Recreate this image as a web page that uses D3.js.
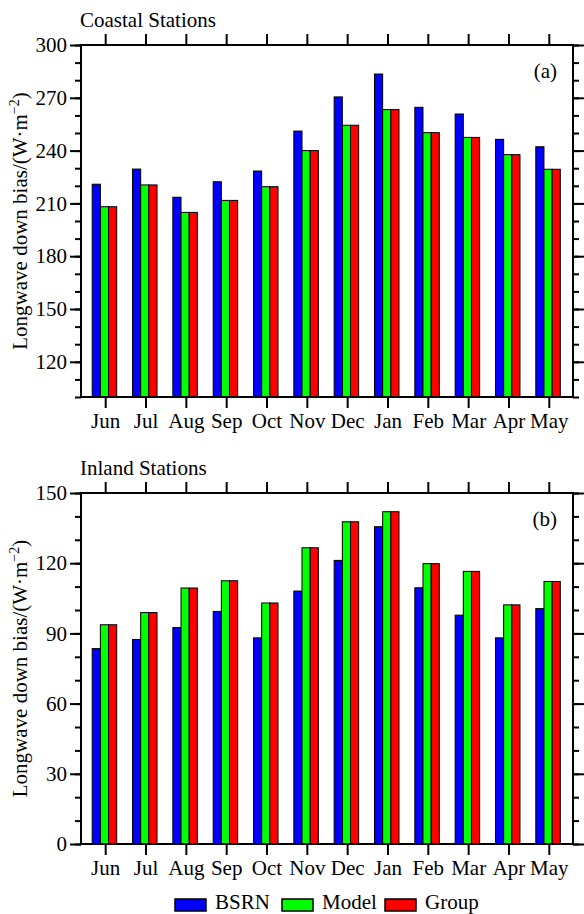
<!DOCTYPE html>
<html>
<head>
<meta charset="utf-8">
<script src="https://cdn.jsdelivr.net/npm/d3@7"></script>
<style>
    body { margin: 0; background: #fff; }
    svg text { font-family: "Liberation Serif", "Times New Roman", serif; fill: #000; }
</style>
</head>
<body>
<div id="chart"></div>
<script>
// Data
const months = ["Jun", "Jul", "Aug", "Sep", "Oct", "Nov", "Dec", "Jan", "Feb", "Mar", "Apr", "May"];
const seriesNames = ["BSRN", "Model", "Group"];
const seriesColors = ["#0000ff", "#00ff00", "#ff0000"];

const coastalBSRN  = [220.9, 229.5, 213.5, 222.3, 228.4, 251.1, 270.5, 283.5, 264.6, 260.8, 246.4, 242.2];
const coastalModel = [208.1, 220.5, 204.9, 211.7, 219.5, 240.0, 254.4, 263.3, 250.2, 247.5, 237.7, 229.4];
const coastalGroup = [208.1, 220.5, 204.9, 211.7, 219.5, 240.0, 254.4, 263.3, 250.2, 247.5, 237.7, 229.4];

const inlandBSRN  = [83.5, 87.4, 92.5, 99.4, 88.1, 108.1, 121.2, 135.6, 109.5, 97.8, 88.1, 100.6];
const inlandModel = [93.7, 98.9, 109.4, 112.5, 103.0, 126.6, 137.7, 142.0, 119.8, 116.5, 102.2, 112.2];
const inlandGroup = [93.7, 98.9, 109.4, 112.5, 103.0, 126.6, 137.7, 142.0, 119.8, 116.5, 102.2, 112.2];

const coastalTicks = [120, 150, 180, 210, 240, 270, 300];
const inlandTicks = [0, 30, 60, 90, 120, 150];

const width = 584;
const height = 914;
const fontSize = 21;

const svg = d3.select("#chart").append("svg")
    .attr("width", width)
    .attr("height", height);

function drawPanel(opts) {
    const left = 81, right = 573;
    const top = opts.top, bottom = opts.bottom;

    const x = d3.scalePoint()
        .domain(months)
        .range([left, right])
        .padding(0.6);

    const y = d3.scaleLinear()
        .domain(opts.domain)
        .range([bottom, top]);

    // offsets of the three bars inside a group
    const inner = d3.scaleBand()
        .domain(seriesNames)
        .range([-13, 11.5]);

    const g = svg.append("g");

    // Bars
    const rows = months.map((m, i) => seriesNames.map((s, j) => ({
        month: m, series: s, color: seriesColors[j], value: opts.values[j][i]
    })));

    g.append("g").selectAll("g")
        .data(rows)
        .join("g")
        .selectAll("rect")
        .data(d => d)
        .join("rect")
        .attr("x", d => x(d.month) + inner(d.series))
        .attr("y", d => y(d.value))
        .attr("width", inner.bandwidth())
        .attr("height", d => y(opts.domain[0]) - y(d.value))
        .attr("fill", d => d.color)
        .attr("stroke", "#000")
        .attr("stroke-width", 1);

    const minorTicks = d3.range(opts.domain[0], opts.domain[1] + 0.1, 10);

    // Left axis: minor + major
    g.append("g")
        .attr("transform", `translate(${left},0)`)
        .call(d3.axisLeft(y).tickValues(minorTicks).tickSize(6).tickSizeOuter(0).tickFormat(""));
    g.append("g")
        .attr("transform", `translate(${left},0)`)
        .call(d3.axisLeft(y).tickValues(opts.ticks).tickSize(11).tickSizeOuter(0).tickPadding(3))
        .selectAll("text")
        .style("font-size", fontSize + "px");

    // Right axis: ticks only
    g.append("g")
        .attr("transform", `translate(${right},0)`)
        .call(d3.axisRight(y).tickValues(minorTicks).tickSize(6).tickSizeOuter(0).tickFormat(""));
    g.append("g")
        .attr("transform", `translate(${right},0)`)
        .call(d3.axisRight(y).tickValues(opts.ticks).tickSize(11).tickSizeOuter(0).tickFormat(""));

    // Top axis
    g.append("g")
        .attr("transform", `translate(0,${top})`)
        .call(d3.axisTop(x).tickSize(11).tickSizeOuter(0).tickFormat(""));

    // Bottom axis with month labels
    g.append("g")
        .attr("transform", `translate(0,${bottom})`)
        .call(d3.axisBottom(x).tickSize(11).tickSizeOuter(0).tickPadding(5))
        .selectAll("text")
        .style("font-size", fontSize + "px");

    g.selectAll(".domain").remove();
    g.selectAll(".tick line").attr("stroke", "#000").attr("stroke-width", 2);

    // Frame
    g.append("rect")
        .attr("x", left)
        .attr("y", top)
        .attr("width", right - left)
        .attr("height", bottom - top)
        .attr("fill", "none")
        .attr("stroke", "#000")
        .attr("stroke-width", 2);

    // Panel title
    g.append("text")
        .attr("x", 80)
        .attr("y", top - 18)
        .style("font-size", fontSize + "px")
        .text(opts.title);

    // Panel letter
    g.append("text")
        .attr("x", 557)
        .attr("y", top + 33)
        .attr("text-anchor", "end")
        .style("font-size", fontSize + "px")
        .text(opts.letter);

    // Y label
    const label = g.append("text")
        .attr("transform", `translate(27,${(top + bottom) / 2}) rotate(-90)`)
        .attr("text-anchor", "middle")
        .style("font-size", fontSize + "px");
    label.append("tspan").text("Longwave down bias/(W\u00b7m");
    label.append("tspan")
        .attr("dy", -8)
        .style("font-size", "14px")
        .text("\u22122");
    label.append("tspan")
        .attr("dy", 8)
        .text(")");
}

drawPanel({
    top: 45, bottom: 397,
    domain: [100, 300],
    ticks: coastalTicks,
    values: [coastalBSRN, coastalModel, coastalGroup],
    title: "Coastal Stations",
    letter: "(a)"
});

drawPanel({
    top: 493, bottom: 844,
    domain: [0, 150],
    ticks: inlandTicks,
    values: [inlandBSRN, inlandModel, inlandGroup],
    title: "Inland Stations",
    letter: "(b)"
});

// Legend (sits right at the bottom edge, as in the reference)
const legendX = [175, 282, 385];
const legend = svg.append("g").attr("class", "legend");
const items = legend.selectAll("g")
    .data(seriesNames)
    .join("g")
    .attr("transform", (d, i) => `translate(${legendX[i]}, 899)`);

items.append("rect")
    .attr("width", 31)
    .attr("height", 12)
    .attr("fill", (d, i) => seriesColors[i])
    .attr("stroke", "#000")
    .attr("stroke-width", 1.5);

items.append("text")
    .attr("x", 40)
    .attr("y", 10)
    .style("font-size", fontSize + "px")
    .text(d => d);
</script>
</body>
</html>
